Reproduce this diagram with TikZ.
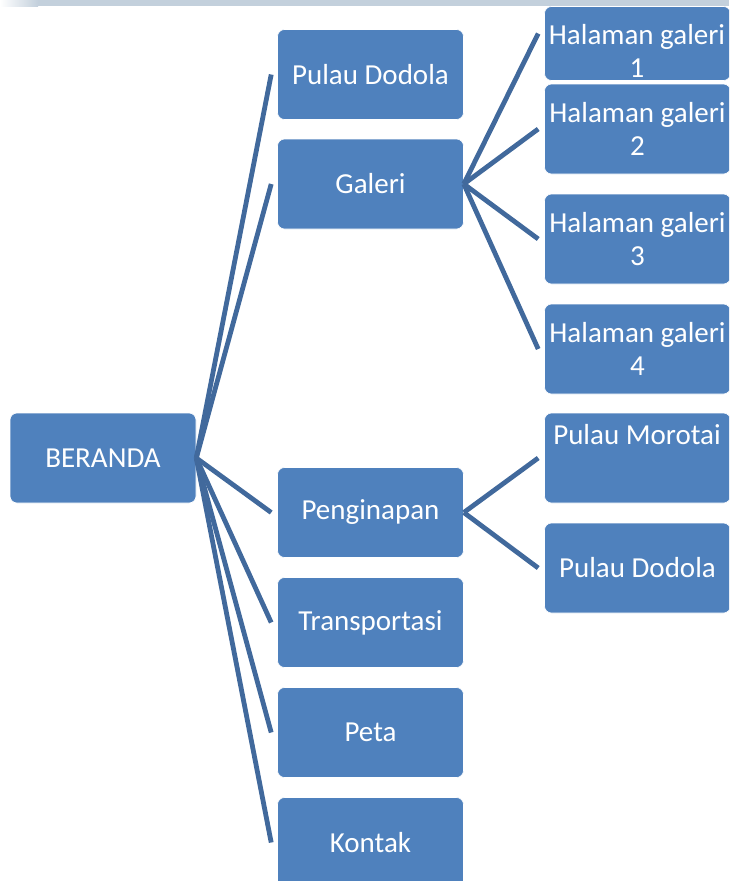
\documentclass[tikz,border=0pt]{standalone}
\usepackage{fontspec}
\setmainfont{Carlito}
\usepackage{tikz}
\usetikzlibrary{positioning}
\definecolor{boxblue}{HTML}{4F81BD}
\definecolor{linkblue}{HTML}{41699C}
\definecolor{barblue}{HTML}{C3D0DC}

\begin{document}
\begin{tikzpicture}[x=1pt, y=-1pt,
    box/.style={fill=boxblue, draw=white, line width=0.6pt, rounded corners=7pt,
      minimum width=186pt, minimum height=90pt, text=white, align=center,
      font=\fontsize{29}{33}\selectfont, inner sep=0pt},
    txt/.style={text=white, align=center, font=\fontsize{29}{33}\selectfont, inner sep=0pt},
    link/.style={linkblue, line width=4.8pt}]
  \useasboundingbox (0,0) rectangle (729,881);
  \clip (0,0) rectangle (729,881);
  % top strip
  \shade[left color=white, right color=barblue] (0,0) rectangle (38,6);
  \fill[barblue] (38,0) rectangle (729,6);
  % root and first level
  \node[box] (beranda) at (103,458) {BERANDA};
  \node[box] (dodola) at (370.5,74.5) {Pulau Dodola};
  \node[box] (galeri) at (370.5,184) {Galeri};
  \node[box] (inap) at (370.5,512.5) {Penginapan};
  \node[box] (trans) at (370.5,622.5) {Transportasi};
  \node[box] (peta) at (370.5,732.5) {Peta};
  \node[box] (kontak) at (370.5,842.5) {Kontak};
  % gallery pages
  \node[box, minimum height=74pt] (gal1) at (637.5,43.5) {};
  \node[txt] at (637,51) {Halaman galeri\\1};
  \node[box] (gal2) at (637.5,129) {Halaman galeri\\2};
  \node[box] (gal3) at (637.5,239) {Halaman galeri\\3};
  \node[box] (gal4) at (637.5,349) {Halaman galeri\\4};
  % lodging
  \node[box] (morotai) at (637.5,458) {};
  \node[txt] at (637,435) {Pulau Morotai};
  \node[box] (dodola2) at (637.5,568) {Pulau Dodola};
  % connectors
  \foreach \n in {dodola,galeri,inap,trans,peta,kontak}
    \draw[link] (beranda.east) -- ([xshift=-6pt]\n.west);
  \draw[link] (galeri.east) -- ([xshift=-6pt,yshift=10pt]gal1.west);
  \foreach \n in {gal2,gal3,gal4}
    \draw[link] (galeri.east) -- ([xshift=-6pt]\n.west);
  \draw[link] (inap.east) -- ([xshift=-6pt]morotai.west);
  \draw[link] (inap.east) -- ([xshift=-6pt]dodola2.west);
\end{tikzpicture}
\end{document}
